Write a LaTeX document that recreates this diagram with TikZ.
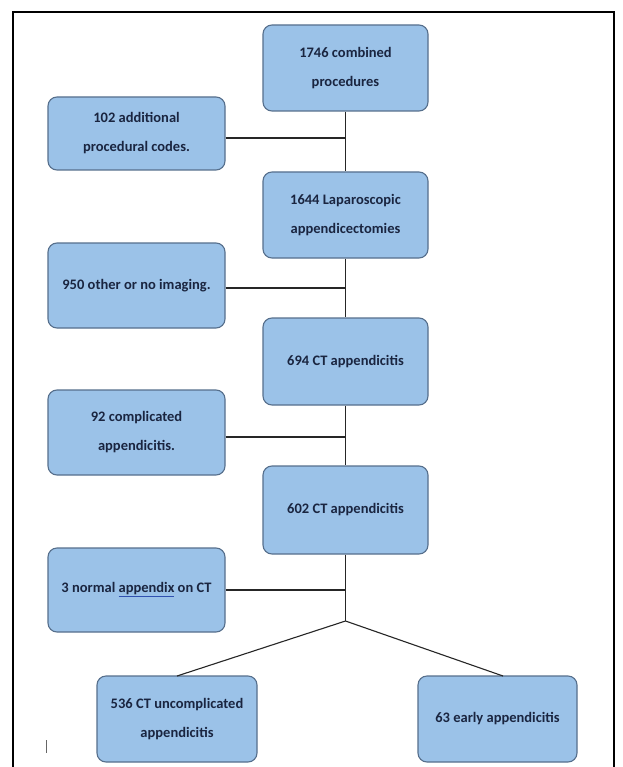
\documentclass[tikz,border=0pt]{standalone}
\usepackage{fontspec}
\setmainfont{Carlito}
\begin{document}
\begin{tikzpicture}[x=1pt,y=-1pt,
  box/.style={draw=boxborder,fill=boxfill,rounded corners=9pt,line width=1.1pt,
    align=center,font=\bfseries\fontsize{14.5}{29}\selectfont,text=boxtext,
    inner sep=0pt},
  link/.style={draw=black!85,line width=1.1pt}]
\definecolor{boxfill}{HTML}{9BC2E8}
\definecolor{boxborder}{HTML}{566F8C}
\definecolor{boxtext}{HTML}{1A2540}
\definecolor{spell}{HTML}{3050B0}
\useasboundingbox (0,0) rectangle (622,767);
\fill[white] (0,0) rectangle (622,767);
\draw[line width=1.6pt] (13,767) -- (13,12) -- (614,12) -- (614,767);
\draw[line width=0.6pt,black!60] (46,740) -- (46,753);
% nodes
\node[box,minimum width=165pt,minimum height=86pt] (n1) at (345.5,68) {1746 combined\\procedures};
\node[box,minimum width=177pt,minimum height=73pt] (n2) at (136.5,133.5) {102 additional\\procedural codes.};
\node[box,minimum width=165pt,minimum height=86pt] (n3) at (345.5,215) {1644 Laparoscopic\\appendicectomies};
\node[box,minimum width=177pt,minimum height=85pt] (n4) at (136.5,285.5) {950 other or no imaging.};
\node[box,minimum width=165pt,minimum height=87pt] (n5) at (345.5,361.5) {694 CT appendicitis};
\node[box,minimum width=177pt,minimum height=85pt] (n6) at (136.5,432.5) {92 complicated\\appendicitis.};
\node[box,minimum width=165pt,minimum height=88pt] (n7) at (345.5,510) {602 CT appendicitis};
\node[box,minimum width=177pt,minimum height=84pt] (n8) at (136.5,590) {3 normal {\color{spell}\underline{\color{boxtext}appendix}} on CT};
\node[box,minimum width=160pt,minimum height=86pt] (n9) at (177,719) {536 CT uncomplicated\\appendicitis};
\node[box,minimum width=159pt,minimum height=86pt] (n10) at (497.5,719) {63 early appendicitis};
% coordinates
\coordinate (j1) at (345.5,138);
\coordinate (j2) at (345.5,288);
\coordinate (j3) at (345.5,437);
\coordinate (j4) at (345.5,590);
\coordinate (fork) at (345.5,621);
\coordinate (t9) at (177,676);
\coordinate (t10) at (503,676);
% links
\draw[link] (n1.south) -- (n3.north);
\draw[link] (n3.south) -- (n5.north);
\draw[link] (n5.south) -- (n7.north);
\draw[link] (n7.south) -- (fork);
\draw[link] (n2.east |- j1) -- (j1);
\draw[link] (n4.east |- j2) -- (j2);
\draw[link] (n6.east |- j3) -- (j3);
\draw[link] (n8.east |- j4) -- (j4);
\draw[link] (fork) -- (t9);
\draw[link] (fork) -- (t10);
\end{tikzpicture}
\end{document}
